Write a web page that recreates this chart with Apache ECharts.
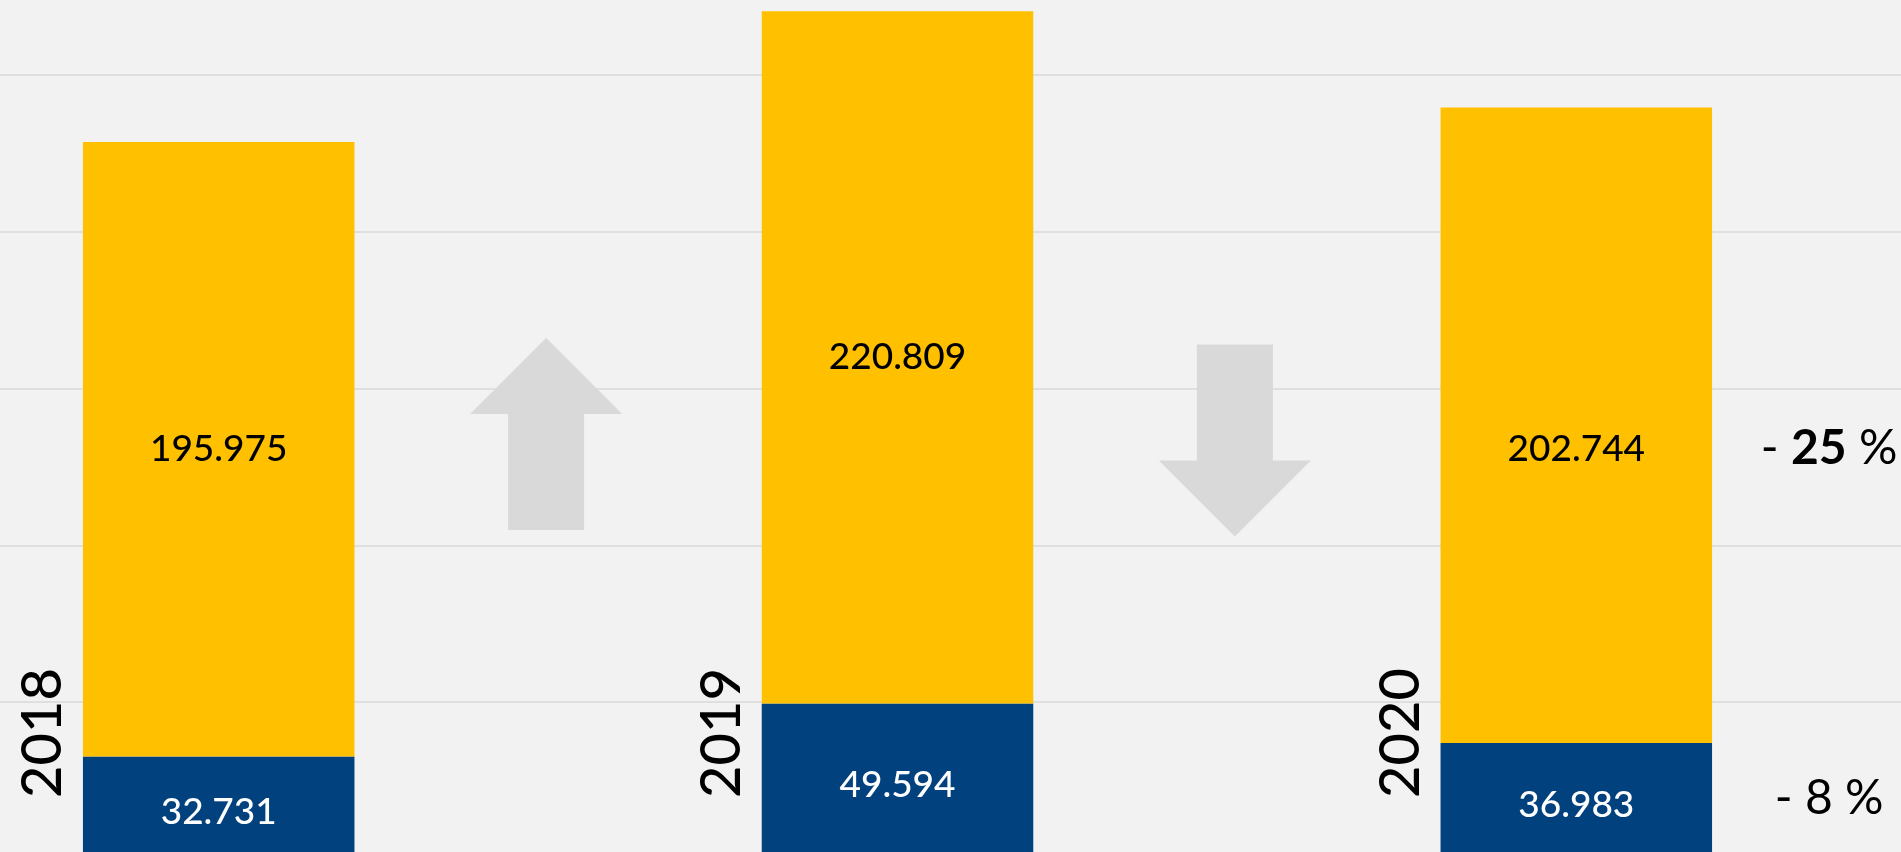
<!DOCTYPE html>
<html>
<head>
<meta charset="utf-8">
<script src="https://cdn.jsdelivr.net/npm/echarts@6/dist/echarts.min.js"></script>
<style>
  html, body { margin: 0; padding: 0; background: #f2f2f2; }
  #chart { width: 1901px; height: 852px; }
</style>
</head>
<body>
<div id="chart"></div>
<script>
// Values (in thousands, German notation 195.975 = 195,975)
const years = ["2018", "2019", "2020"];
const blueValues = [32.731, 49.594, 36.983];
const goldValues = [195.975, 220.809, 202.744];

// Trend arrows between the years, and their height on the value axis
const arrowDirections = ["up", "down"];
const arrowLevels = [135.6, 133.5];

// Change annotations next to the 2020 bar (gold segment, blue segment)
const changeTexts = ["- {strong|25} %", "- 8 %"];

const GOLD = "#ffc000";
const BLUE = "#00417e";
const GREY = "#d9d9d9";
const FONT = "Lato";

const ARROW_PATHS = {
  up: "path://M76,0 L152,76 L114,76 L114,192 L38,192 L38,76 L0,76 Z",
  down: "path://M38,0 L114,0 L114,116 L152,116 L76,192 L0,116 L38,116 Z",
};

// one slot per year, with an empty slot between two years for the arrow
const slots = [];
years.forEach((y, i) => {
  slots.push(y);
  if (i < years.length - 1) slots.push(y + "-" + years[i + 1]);
});
const toSlots = (values, mapItem) =>
  slots.map((s, k) => (k % 2 === 0 ? mapItem(values[k / 2], k / 2) : "-"));

const last = years.length - 1;

const valueLabel = (color) => ({
  show: true,
  position: "inside",
  color: color,
  fontFamily: FONT,
  fontWeight: 500,
  fontSize: 37,
  formatter: (p) => p.value.toFixed(3),
});

const option = {
  animation: false,
  backgroundColor: "#f2f2f2",
  grid: [
    { left: 0, right: 0, top: 0, height: 859, outerBoundsMode: "none" },
    { left: 49, right: 155, top: 0, height: 859, outerBoundsMode: "none" },
  ],
  xAxis: [
    { gridIndex: 0, type: "category", data: ["all"], show: false },
    { gridIndex: 1, type: "category", data: slots, show: false },
  ],
  yAxis: [
    {
      gridIndex: 0,
      type: "value",
      min: 0,
      max: 274,
      interval: 50,
      axisLine: { show: false },
      axisTick: { show: false },
      axisLabel: { show: false },
      splitLine: {
        show: true,
        showMinLine: false,
        showMaxLine: false,
        lineStyle: { color: GREY, width: 1.5 },
      },
    },
    { gridIndex: 1, type: "value", min: 0, max: 274, show: false },
  ],
  series: [
    {
      name: "blue",
      type: "bar",
      stack: "total",
      xAxisIndex: 1,
      yAxisIndex: 1,
      barWidth: "80%",
      itemStyle: { color: BLUE },
      label: { ...valueLabel("#fff"), offset: [0, 4] },
      data: toSlots(blueValues, (v) => v),
    },
    {
      name: "gold",
      type: "bar",
      stack: "total",
      xAxisIndex: 1,
      yAxisIndex: 1,
      barWidth: "80%",
      itemStyle: { color: GOLD },
      label: valueLabel("#000"),
      // the 2020 label sits a bit below the middle of its segment
      data: toSlots(goldValues, (v, i) => (i === last ? { value: v, label: { offset: [0, 24] } } : v)),
    },
    {
      name: "arrows",
      type: "scatter",
      xAxisIndex: 1,
      yAxisIndex: 1,
      silent: true,
      z: 1,
      itemStyle: { color: GREY, opacity: 1 },
      data: arrowDirections.map((d, i) => ({
        value: [i * 2 + 1, arrowLevels[i]],
        symbol: ARROW_PATHS[d],
        symbolSize: [152, 192],
        symbolOffset: [d === "up" ? -12 : -2, 0],
      })),
    },
    {
      name: "years",
      type: "custom",
      xAxisIndex: 1,
      yAxisIndex: 1,
      silent: true,
      data: years.map((y, i) => [i * 2, 0]),
      renderItem: (params, api) => {
        const base = api.coord([api.value(0), 0]);
        const band = api.size([1, 0])[0];
        return {
          type: "text",
          x: base[0] - band * 0.4 - 40,
          y: base[1] - 61,
          rotation: Math.PI / 2,
          style: {
            text: years[params.dataIndex],
            fill: "#000",
            fontFamily: FONT,
            fontWeight: 500,
            fontSize: 56,
            align: "left",
            verticalAlign: "middle",
          },
        };
      },
    },
    {
      name: "change",
      type: "custom",
      xAxisIndex: 1,
      yAxisIndex: 1,
      silent: true,
      data: [
        [last * 2, blueValues[last] + goldValues[last] / 2],
        [last * 2, blueValues[last] / 2],
      ],
      renderItem: (params, api) => {
        const pt = api.coord([api.value(0), api.value(1)]);
        const band = api.size([1, 0])[0];
        return {
          type: "text",
          x: pt[0] + band * 0.745,
          y: pt[1] + (params.dataIndex === 0 ? 23 : -3),
          style: {
            text: changeTexts[params.dataIndex],
            fill: "#000",
            fontFamily: FONT,
            fontSize: 48,
            align: "center",
            verticalAlign: "middle",
            rich: {
              strong: { fontFamily: FONT, fontSize: 48, fontWeight: "bold", fill: "#000" },
            },
          },
        };
      },
    },
  ],
};

const chart = echarts.init(document.getElementById("chart"));
chart.setOption(option);
</script>
</body>
</html>
